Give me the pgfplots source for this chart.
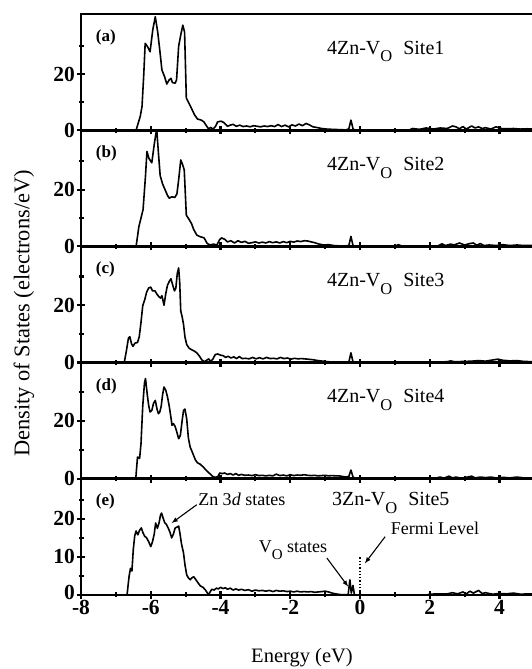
\documentclass[border=0pt]{standalone}
\usepackage{pgfplots}
\pgfplotsset{compat=1.18}
\usepackage{fontspec}
\setmainfont{Liberation Serif}
\newcommand{\sitelabel}[2]{#1Zn-V\raisebox{-7.5pt}{\fontsize{16.5}{16.5}\selectfont O}\hspace{11pt}Site#2}
\tikzset{
  dosline/.style={black, line width=1.6pt, line join=round},
  txt/.style={font=\fontsize{20}{20}\selectfont, inner sep=0pt},
  plab/.style={font=\fontsize{17}{17}\selectfont\bfseries, inner sep=0pt, anchor=base west},
}
\pgfplotsset{
  dos/.style={
    scale only axis, width=460.35pt, height=116.2pt,
    xmin=-8, xmax=5.2, ymin=0,
    xtick={-8,-6,-4,-2,0,2,4}, minor xtick={-7,-5,-3,-1,1,3,5},
    tick pos=left, tick align=center,
    major tick length=8pt, minor tick length=5pt,
    every tick/.append style={line width=2.2pt, black},
    axis line style={line width=2.8pt},
    /pgf/number format/assume math mode=true,
    ticklabel style={font=\fontsize{21.5}{21.5}\selectfont\bfseries, inner sep=0pt},
    yticklabel style={xshift=-2pt},
    xticklabel style={yshift=-1.5pt},
    clip=true,
  },
}
\begin{document}
\begin{tikzpicture}
\useasboundingbox (0,0) rectangle (532pt,669pt);
% ---------------- panel (a)
\begin{axis}[dos, at={(81pt,538.8pt)}, anchor=south west, ymax=41.5,
  ytick={0,20}, minor ytick={10,30}, xticklabels={}]
\addplot[dosline] coordinates {
(-8,0) (-6.42,0) (-6.3,5) (-6.25,8.5) (-6.2,20) (-6.16,31) (-6.1,30) (-6.02,28) (-5.94,36) (-5.87,40.5)
(-5.8,35) (-5.74,28.5) (-5.68,21.5) (-5.6,19) (-5.54,16.5) (-5.47,18) (-5.42,18.5) (-5.38,17) (-5.3,16.8)
(-5.26,18) (-5.2,30) (-5.14,34) (-5.08,37.5) (-5.03,35) (-4.98,11.5) (-4.9,9.5) (-4.84,8) (-4.75,5.6)
(-4.66,4) (-4.55,3.6) (-4.48,3) (-4.4,1.5) (-4.34,0.5) (-4.28,1) (-4.22,0.4) (-4.15,1.2) (-4.08,3)
(-3.98,3.2) (-3.9,2.7) (-3.8,1.4) (-3.72,1.8) (-3.64,2.1) (-3.55,1.4) (-3.45,1.8) (-3.35,1.3) (-3.25,1.5)
(-3.15,1.2) (-3.05,1.6) (-2.95,1.4) (-2.85,1.2) (-2.75,1.5) (-2.65,1.3) (-2.55,1.6) (-2.45,1.3) (-2.35,2.0)
(-2.25,1.3) (-2.15,1.8) (-2.05,1.2) (-1.95,1.9) (-1.85,1.5) (-1.75,2.2) (-1.65,1.6) (-1.55,2.4) (-1.45,1.9)
(-1.35,1.2) (-1.25,1.0) (-1.1,0.6) (-0.95,0.4) (-0.8,0.3) (-0.6,0.2) (-0.4,0.1) (-0.32,0.5) (-0.26,3.6)
(-0.2,0.5) (-0.15,0) (1.4,0) (1.5,0.6) (1.7,0.3) (1.9,0.8) (2.1,0.4) (2.3,0.8) (2.5,0.6) (2.65,1.5)
(2.75,1.2) (2.85,0.5) (2.95,1.3) (3.05,0.4) (3.2,1.5) (3.3,0.8) (3.4,1.2) (3.5,0.6) (3.6,0.9) (3.75,0.4)
(3.9,1.2) (4.05,0.6) (4.2,0.5) (4.4,0.6) (4.6,0.4) (4.8,0.5) (5.0,0.4)};
\node[plab] at (rel axis cs:0.032,0.763) {(a)};
\node[txt, anchor=base west] at (rel axis cs:0.534,0.653) {\sitelabel{4}{1}};
\end{axis}
% ---------------- panel (b)
\begin{axis}[dos, at={(81pt,422.6pt)}, anchor=south west, ymax=41,
  ytick={0,20}, minor ytick={10,30}, xticklabels={}]
\addplot[dosline] coordinates {
(-8,0) (-6.42,0) (-6.34,7) (-6.28,10) (-6.22,13) (-6.15,25) (-6.11,33.5) (-6.05,31) (-5.97,29.5) (-5.9,36)
(-5.83,41.5) (-5.78,33) (-5.73,25) (-5.66,22) (-5.59,20) (-5.52,18) (-5.47,17) (-5.4,17.5) (-5.31,17.3)
(-5.25,18.5) (-5.2,23.5) (-5.14,30.5) (-5.09,29) (-5.04,27) (-4.98,11) (-4.9,9.5) (-4.83,8) (-4.77,6)
(-4.68,4) (-4.6,3.5) (-4.47,3) (-4.38,1) (-4.3,0.5) (-4.2,0.8) (-4.1,0.5) (-4.03,2.3) (-3.97,3) (-3.88,2.5)
(-3.8,1.6) (-3.7,2.0) (-3.6,1.2) (-3.5,2.0) (-3.4,1.4) (-3.3,1.8) (-3.2,1.1) (-3.1,1.3) (-3.0,1.6) (-2.9,1.2)
(-2.8,1.5) (-2.7,1.2) (-2.6,1.7) (-2.5,1.3) (-2.4,1.6) (-2.3,1.2) (-2.2,1.7) (-2.1,1.3) (-2.0,1.8) (-1.9,1.5)
(-1.8,1.9) (-1.7,1.7) (-1.6,2.0) (-1.5,1.9) (-1.4,1.6) (-1.3,1.3) (-1.2,0.9) (-1.05,0.5) (-0.9,0.6)
(-0.75,0.3) (-0.5,0.1) (-0.32,0.3) (-0.26,3.5) (-0.2,0.3) (-0.12,0) (1.0,0) (1.1,0.6) (1.2,0.1) (2.2,0)
(2.35,0.9) (2.45,0.3) (2.6,0.8) (2.7,0.5) (2.85,1.2) (3.0,0.5) (3.15,1.0) (3.25,1.2) (3.35,0.4) (3.45,1.0)
(3.55,0.3) (3.7,0.5) (3.9,0.3) (4.1,0.6) (4.3,0.3) (4.5,0.5) (4.7,0.3) (5,0.4)};
\node[plab] at (rel axis cs:0.032,0.763) {(b)};
\node[txt, anchor=base west] at (rel axis cs:0.534,0.653) {\sitelabel{4}{2}};
\end{axis}
% ---------------- panel (c)
\begin{axis}[dos, at={(81pt,306.4pt)}, anchor=south west, ymax=40.5,
  ytick={0,20}, minor ytick={10,30}, xticklabels={}]
\addplot[dosline] coordinates {
(-8,0) (-6.76,0) (-6.7,4) (-6.64,8.5) (-6.6,9) (-6.55,6.5) (-6.51,5.7) (-6.45,6.8) (-6.38,7) (-6.33,9)
(-6.28,14) (-6.23,19.8) (-6.17,22) (-6.12,24.5) (-6.06,26) (-6.0,26.3) (-5.95,25) (-5.88,25) (-5.83,24)
(-5.77,23) (-5.72,22.5) (-5.68,23.3) (-5.62,20) (-5.57,24) (-5.52,27) (-5.46,28.5) (-5.42,29.2) (-5.37,27)
(-5.32,25) (-5.28,26) (-5.24,31) (-5.2,33) (-5.17,28) (-5.14,18) (-5.1,16) (-5.06,13.3) (-5.02,9) (-4.97,6.3)
(-4.9,5) (-4.83,4.5) (-4.75,4) (-4.68,3.4) (-4.6,2.2) (-4.54,1.0) (-4.46,0.3) (-4.4,0.8) (-4.34,1.3)
(-4.28,0.4) (-4.22,1.2) (-4.15,2.8) (-4.08,3) (-4.0,2.6) (-3.92,2.4) (-3.85,1.8) (-3.78,2.2) (-3.7,1.6)
(-3.62,2.0) (-3.54,1.4) (-3.46,2.1) (-3.38,1.4) (-3.28,1.5) (-3.18,1.3) (-3.08,1.8) (-2.98,1.3) (-2.88,1.7)
(-2.78,1.3) (-2.68,1.8) (-2.58,1.4) (-2.48,1.5) (-2.38,1.3) (-2.28,1.8) (-2.18,1.4) (-2.08,1.6) (-1.98,1.2)
(-1.88,1.5) (-1.78,1.3) (-1.68,1.4) (-1.5,1.2) (-1.35,1.0) (-1.2,0.7) (-1.0,0.4) (-0.8,0.2) (-0.5,0.1)
(-0.32,0.2) (-0.26,3.4) (-0.2,0.2) (-0.1,0) (2.0,0) (2.2,0.2) (2.5,0.3) (2.6,0.6) (2.7,0.3) (3.0,0.4)
(3.2,0.5) (3.4,0.7) (3.6,0.5) (3.8,0.9) (3.95,1.2) (4.1,0.8) (4.3,0.6) (4.5,0.7) (4.7,0.4) (5.0,0.3)};
\node[plab] at (rel axis cs:0.032,0.763) {(c)};
\node[txt, anchor=base west] at (rel axis cs:0.534,0.653) {\sitelabel{4}{3}};
\end{axis}
% ---------------- panel (d)
\begin{axis}[dos, at={(81pt,190.2pt)}, anchor=south west, ymax=40,
  ytick={0,20}, minor ytick={10,30}, xticklabels={}]
\addplot[dosline] coordinates {
(-8,0) (-6.43,0) (-6.38,7.5) (-6.32,7) (-6.28,12) (-6.23,25) (-6.18,33) (-6.15,34.5) (-6.1,29) (-6.06,25.3)
(-6.02,23) (-5.97,23.5) (-5.92,26) (-5.87,27) (-5.82,24) (-5.78,22.4) (-5.74,23) (-5.7,25) (-5.66,29)
(-5.62,31.6) (-5.57,30.5) (-5.52,28.2) (-5.47,25) (-5.42,21) (-5.39,18.4) (-5.35,19) (-5.3,18) (-5.25,16)
(-5.2,13.8) (-5.15,15) (-5.1,20) (-5.06,23.5) (-5.02,24) (-4.97,20.7) (-4.92,14) (-4.87,10.9) (-4.82,9.5)
(-4.77,8) (-4.72,6.5) (-4.66,5.5) (-4.58,5) (-4.49,4) (-4.4,2.8) (-4.3,1.7) (-4.22,0.8) (-4.16,0.5)
(-4.08,0.7) (-4.02,2.0) (-3.95,1.8) (-3.88,2.0) (-3.8,1.5) (-3.72,1.8) (-3.64,1.3) (-3.56,1.8) (-3.48,1.2)
(-3.4,1.5) (-3.3,1.2) (-3.2,1.3) (-3.1,1.1) (-3.0,1.4) (-2.9,1.1) (-2.8,1.2) (-2.7,1.0) (-2.6,1.2) (-2.5,1.0)
(-2.4,1.6) (-2.3,1.1) (-2.2,1.3) (-2.1,1.0) (-2.0,1.4) (-1.9,1.1) (-1.8,1.3) (-1.7,1.2) (-1.6,1.4) (-1.5,1.2)
(-1.4,1.1) (-1.3,1.2) (-1.2,1.0) (-1.1,1.1) (-1.0,1.2) (-0.9,1.0) (-0.8,1.1) (-0.7,1.0) (-0.6,1.0) (-0.5,0.8)
(-0.4,0.6) (-0.32,0.8) (-0.26,3.0) (-0.2,0.6) (-0.12,0) (1.9,0) (2.0,0.3) (2.15,0.2) (2.3,0.6) (2.4,0.2)
(2.55,0.9) (2.65,0.3) (2.75,0.6) (2.9,0.2) (3.05,0.5) (3.2,0.9) (3.3,0.3) (3.45,0.6) (3.6,0.4) (3.75,0.6)
(3.9,0.3) (4.1,0.5) (4.3,0.3) (4.5,0.6) (4.7,0.3) (4.9,0.3) (5,0.2)};
\node[plab] at (rel axis cs:0.032,0.763) {(d)};
\node[txt, anchor=base west] at (rel axis cs:0.534,0.653) {\sitelabel{4}{4}};
\end{axis}
% ---------------- panel (e)
\begin{axis}[dos, at={(81pt,74pt)}, anchor=south west, ymax=30.5,
  ytick={10,20}, minor ytick={5,15,25},
  extra y ticks={0}, extra y tick style={yticklabel style={yshift=3pt}}]
\addplot[dosline] coordinates {
(-8,0) (-6.68,0) (-6.62,5) (-6.58,7) (-6.54,6.3) (-6.5,12) (-6.46,15.5) (-6.42,16.8) (-6.37,15.8) (-6.32,17)
(-6.27,17.6) (-6.23,16.5) (-6.18,15.5) (-6.12,15) (-6.06,14) (-6.0,12.7) (-5.95,14) (-5.9,16) (-5.86,18.9)
(-5.81,17.5) (-5.76,19) (-5.72,21) (-5.69,21.5) (-5.65,20.3) (-5.6,19) (-5.55,18.5) (-5.5,17.6) (-5.45,16.5)
(-5.4,15) (-5.35,16) (-5.3,17.6) (-5.25,17.8) (-5.2,18.1) (-5.16,16) (-5.12,13.5) (-5.06,11) (-5.02,8)
(-4.97,5.3) (-4.92,4.5) (-4.87,4) (-4.82,4.5) (-4.77,4.8) (-4.72,4.2) (-4.66,3.4) (-4.58,2.4) (-4.5,2.0)
(-4.44,1.4) (-4.38,0.6) (-4.34,0) (-4.3,0.8) (-4.25,1.5) (-4.18,1.3) (-4.12,1.8) (-4.06,1.6) (-4.0,2.0)
(-3.93,1.7) (-3.86,1.9) (-3.8,1.5) (-3.72,1.8) (-3.64,1.3) (-3.56,1.6) (-3.48,1.3) (-3.4,1.5) (-3.3,1.2)
(-3.2,1.4) (-3.1,1.0) (-3.0,1.3) (-2.9,1.1) (-2.8,1.2) (-2.7,1.0) (-2.6,1.2) (-2.5,0.9) (-2.4,1.2) (-2.3,1.0)
(-2.2,1.1) (-2.1,0.9) (-2.0,1.0) (-1.9,0.8) (-1.8,1.0) (-1.7,0.8) (-1.6,0.9) (-1.5,0.8) (-1.4,0.9) (-1.3,0.7)
(-1.2,0.8) (-1.1,0.9) (-1.0,1.0) (-0.9,0.8) (-0.8,0.5) (-0.7,0.3) (-0.55,0.1) (-0.34,0.1) (-0.29,4)
(-0.25,0.5) (-0.2,2.5) (-0.16,0) (1.9,0) (2.0,0.2) (2.2,0.3) (2.5,0.3) (2.65,0.6) (2.8,0.3) (2.95,0.8)
(3.05,0.3) (3.15,1.0) (3.25,0.5) (3.4,1.2) (3.5,0.4) (3.6,0.6) (3.8,0.2) (4.0,0.4) (4.2,0.3) (4.4,0.5)
(4.6,0.2) (4.8,0.3) (5,0.3)};
\addplot[black, line width=1.3pt, dotted] coordinates {(0,0) (0,10.3)};
\node[plab] at (rel axis cs:0.032,0.77) {(e)};
\node[txt, anchor=base west] at (rel axis cs:0.545,0.77) {\sitelabel{3}{5}};
\node[txt, font=\fontsize{18}{18}\selectfont] at (axis cs:-3.39,25) {Zn 3\textit{d} states};
\draw[-latex, line width=1.1pt] (axis cs:-4.68,23.7) -- (axis cs:-5.40,18.9);
\node[txt, font=\fontsize{18}{18}\selectfont] at (axis cs:2.15,17.6) {Fermi Level};
\draw[-latex, line width=1.1pt] (axis cs:0.72,15.3) -- (axis cs:0.14,8.3);
\node[txt, font=\fontsize{18}{18}\selectfont] at (axis cs:-1.92,11.8) {V\raisebox{-6.5pt}{\fontsize{15}{15}\selectfont O} states};
\draw[-latex, line width=1.1pt] (axis cs:-0.95,9.7) -- (axis cs:-0.34,2.2);
\end{axis}
\node[font=\fontsize{22.4}{22.4}\selectfont, rotate=90] at (24pt,355.5pt) {Density of States (electrons/eV)};
\node[font=\fontsize{20.5}{20.5}\selectfont] at (302pt,11pt) {Energy (eV)};
\end{tikzpicture}
\end{document}
